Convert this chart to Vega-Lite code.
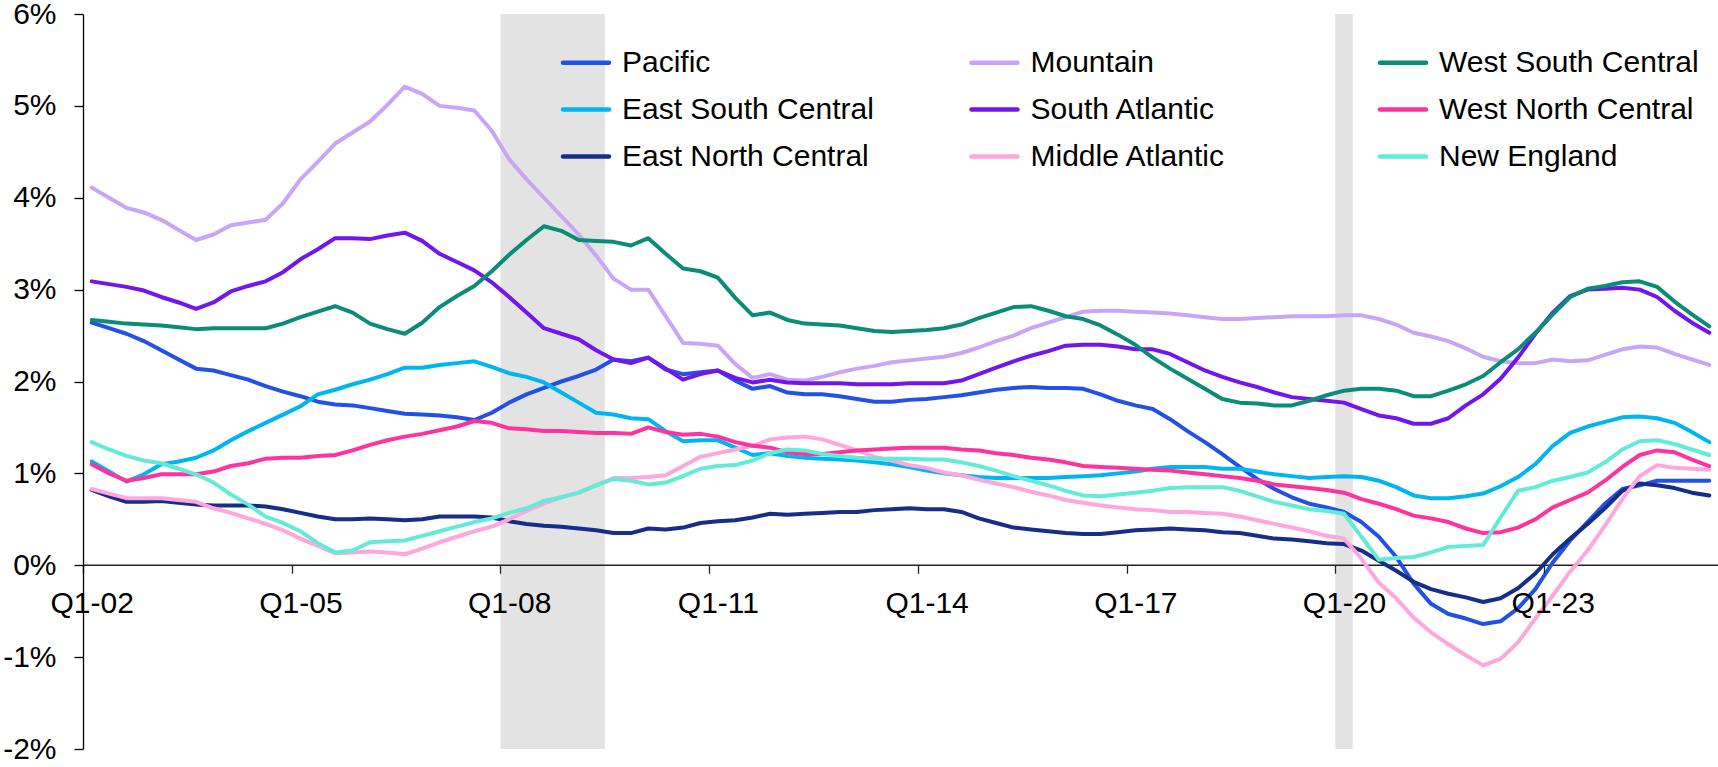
{
"$schema": "https://vega.github.io/schema/vega-lite/v6.json",
"width": 1635, "height": 735,
"autosize": {"type": "none"},
"padding": {"left": 83, "top": 14, "right": 0, "bottom": 18},
"background": "white",
"config": {"view": {"stroke": null}, "font": "Liberation Sans"},
"datasets": {
"shade": [{"s": 23.5, "e": 29.5}, {"s": 71.5, "e": 72.5}],
"series": [
{"r":"Pacific","t":0,"v":2.64},{"r":"Pacific","t":1,"v":2.58},{"r":"Pacific","t":2,"v":2.52},{"r":"Pacific","t":3,"v":2.44},{"r":"Pacific","t":4,"v":2.34},{"r":"Pacific","t":5,"v":2.24},{"r":"Pacific","t":6,"v":2.14},{"r":"Pacific","t":7,"v":2.12},{"r":"Pacific","t":8,"v":2.07},{"r":"Pacific","t":9,"v":2.02},
{"r":"Pacific","t":10,"v":1.95},{"r":"Pacific","t":11,"v":1.89},{"r":"Pacific","t":12,"v":1.84},{"r":"Pacific","t":13,"v":1.78},{"r":"Pacific","t":14,"v":1.75},{"r":"Pacific","t":15,"v":1.74},{"r":"Pacific","t":16,"v":1.71},{"r":"Pacific","t":17,"v":1.68},{"r":"Pacific","t":18,"v":1.65},{"r":"Pacific","t":19,"v":1.64},
{"r":"Pacific","t":20,"v":1.63},{"r":"Pacific","t":21,"v":1.61},{"r":"Pacific","t":22,"v":1.58},{"r":"Pacific","t":23,"v":1.66},{"r":"Pacific","t":24,"v":1.77},{"r":"Pacific","t":25,"v":1.86},{"r":"Pacific","t":26,"v":1.93},{"r":"Pacific","t":27,"v":2.00},{"r":"Pacific","t":28,"v":2.06},{"r":"Pacific","t":29,"v":2.13},
{"r":"Pacific","t":30,"v":2.24},{"r":"Pacific","t":31,"v":2.22},{"r":"Pacific","t":32,"v":2.26},{"r":"Pacific","t":33,"v":2.13},{"r":"Pacific","t":34,"v":2.08},{"r":"Pacific","t":35,"v":2.10},{"r":"Pacific","t":36,"v":2.12},{"r":"Pacific","t":37,"v":2.01},{"r":"Pacific","t":38,"v":1.92},{"r":"Pacific","t":39,"v":1.95},
{"r":"Pacific","t":40,"v":1.88},{"r":"Pacific","t":41,"v":1.86},{"r":"Pacific","t":42,"v":1.86},{"r":"Pacific","t":43,"v":1.84},{"r":"Pacific","t":44,"v":1.81},{"r":"Pacific","t":45,"v":1.78},{"r":"Pacific","t":46,"v":1.78},{"r":"Pacific","t":47,"v":1.80},{"r":"Pacific","t":48,"v":1.81},{"r":"Pacific","t":49,"v":1.83},
{"r":"Pacific","t":50,"v":1.85},{"r":"Pacific","t":51,"v":1.88},{"r":"Pacific","t":52,"v":1.91},{"r":"Pacific","t":53,"v":1.93},{"r":"Pacific","t":54,"v":1.94},{"r":"Pacific","t":55,"v":1.93},{"r":"Pacific","t":56,"v":1.93},{"r":"Pacific","t":57,"v":1.92},{"r":"Pacific","t":58,"v":1.86},{"r":"Pacific","t":59,"v":1.79},
{"r":"Pacific","t":60,"v":1.74},{"r":"Pacific","t":61,"v":1.70},{"r":"Pacific","t":62,"v":1.59},{"r":"Pacific","t":63,"v":1.46},{"r":"Pacific","t":64,"v":1.34},{"r":"Pacific","t":65,"v":1.21},{"r":"Pacific","t":66,"v":1.07},{"r":"Pacific","t":67,"v":0.94},{"r":"Pacific","t":68,"v":0.83},{"r":"Pacific","t":69,"v":0.74},
{"r":"Pacific","t":70,"v":0.67},{"r":"Pacific","t":71,"v":0.63},{"r":"Pacific","t":72,"v":0.58},{"r":"Pacific","t":73,"v":0.47},{"r":"Pacific","t":74,"v":0.31},{"r":"Pacific","t":75,"v":0.09},{"r":"Pacific","t":76,"v":-0.20},{"r":"Pacific","t":77,"v":-0.42},{"r":"Pacific","t":78,"v":-0.53},{"r":"Pacific","t":79,"v":-0.58},
{"r":"Pacific","t":80,"v":-0.64},{"r":"Pacific","t":81,"v":-0.61},{"r":"Pacific","t":82,"v":-0.47},{"r":"Pacific","t":83,"v":-0.26},{"r":"Pacific","t":84,"v":0.03},{"r":"Pacific","t":85,"v":0.27},{"r":"Pacific","t":86,"v":0.47},{"r":"Pacific","t":87,"v":0.67},{"r":"Pacific","t":88,"v":0.83},{"r":"Pacific","t":89,"v":0.87},
{"r":"Pacific","t":90,"v":0.92},{"r":"Pacific","t":91,"v":0.92},{"r":"Pacific","t":92,"v":0.92},{"r":"Pacific","t":93,"v":0.92},

{"r":"East South Central","t":0,"v":1.13},{"r":"East South Central","t":1,"v":1.02},{"r":"East South Central","t":2,"v":0.91},{"r":"East South Central","t":3,"v":0.99},{"r":"East South Central","t":4,"v":1.10},{"r":"East South Central","t":5,"v":1.13},{"r":"East South Central","t":6,"v":1.17},{"r":"East South Central","t":7,"v":1.25},{"r":"East South Central","t":8,"v":1.36},{"r":"East South Central","t":9,"v":1.46},
{"r":"East South Central","t":10,"v":1.55},{"r":"East South Central","t":11,"v":1.64},{"r":"East South Central","t":12,"v":1.73},{"r":"East South Central","t":13,"v":1.86},{"r":"East South Central","t":14,"v":1.91},{"r":"East South Central","t":15,"v":1.97},{"r":"East South Central","t":16,"v":2.02},{"r":"East South Central","t":17,"v":2.08},{"r":"East South Central","t":18,"v":2.15},{"r":"East South Central","t":19,"v":2.15},
{"r":"East South Central","t":20,"v":2.18},{"r":"East South Central","t":21,"v":2.20},{"r":"East South Central","t":22,"v":2.22},{"r":"East South Central","t":23,"v":2.16},{"r":"East South Central","t":24,"v":2.09},{"r":"East South Central","t":25,"v":2.05},{"r":"East South Central","t":26,"v":1.99},{"r":"East South Central","t":27,"v":1.88},{"r":"East South Central","t":28,"v":1.77},{"r":"East South Central","t":29,"v":1.66},
{"r":"East South Central","t":30,"v":1.64},{"r":"East South Central","t":31,"v":1.60},{"r":"East South Central","t":32,"v":1.59},{"r":"East South Central","t":33,"v":1.46},{"r":"East South Central","t":34,"v":1.35},{"r":"East South Central","t":35,"v":1.36},{"r":"East South Central","t":36,"v":1.36},{"r":"East South Central","t":37,"v":1.28},{"r":"East South Central","t":38,"v":1.20},{"r":"East South Central","t":39,"v":1.22},
{"r":"East South Central","t":40,"v":1.19},{"r":"East South Central","t":41,"v":1.17},{"r":"East South Central","t":42,"v":1.16},{"r":"East South Central","t":43,"v":1.15},{"r":"East South Central","t":44,"v":1.14},{"r":"East South Central","t":45,"v":1.12},{"r":"East South Central","t":46,"v":1.10},{"r":"East South Central","t":47,"v":1.07},{"r":"East South Central","t":48,"v":1.03},{"r":"East South Central","t":49,"v":1.00},
{"r":"East South Central","t":50,"v":0.98},{"r":"East South Central","t":51,"v":0.96},{"r":"East South Central","t":52,"v":0.95},{"r":"East South Central","t":53,"v":0.95},{"r":"East South Central","t":54,"v":0.95},{"r":"East South Central","t":55,"v":0.95},{"r":"East South Central","t":56,"v":0.96},{"r":"East South Central","t":57,"v":0.97},{"r":"East South Central","t":58,"v":0.98},{"r":"East South Central","t":59,"v":1.00},
{"r":"East South Central","t":60,"v":1.02},{"r":"East South Central","t":61,"v":1.05},{"r":"East South Central","t":62,"v":1.07},{"r":"East South Central","t":63,"v":1.07},{"r":"East South Central","t":64,"v":1.07},{"r":"East South Central","t":65,"v":1.05},{"r":"East South Central","t":66,"v":1.05},{"r":"East South Central","t":67,"v":1.02},{"r":"East South Central","t":68,"v":0.99},{"r":"East South Central","t":69,"v":0.97},
{"r":"East South Central","t":70,"v":0.95},{"r":"East South Central","t":71,"v":0.96},{"r":"East South Central","t":72,"v":0.97},{"r":"East South Central","t":73,"v":0.96},{"r":"East South Central","t":74,"v":0.92},{"r":"East South Central","t":75,"v":0.85},{"r":"East South Central","t":76,"v":0.76},{"r":"East South Central","t":77,"v":0.73},{"r":"East South Central","t":78,"v":0.73},{"r":"East South Central","t":79,"v":0.75},
{"r":"East South Central","t":80,"v":0.78},{"r":"East South Central","t":81,"v":0.86},{"r":"East South Central","t":82,"v":0.96},{"r":"East South Central","t":83,"v":1.10},{"r":"East South Central","t":84,"v":1.30},{"r":"East South Central","t":85,"v":1.44},{"r":"East South Central","t":86,"v":1.51},{"r":"East South Central","t":87,"v":1.56},{"r":"East South Central","t":88,"v":1.61},{"r":"East South Central","t":89,"v":1.62},
{"r":"East South Central","t":90,"v":1.60},{"r":"East South Central","t":91,"v":1.55},{"r":"East South Central","t":92,"v":1.45},{"r":"East South Central","t":93,"v":1.34},

{"r":"East North Central","t":0,"v":0.82},{"r":"East North Central","t":1,"v":0.75},{"r":"East North Central","t":2,"v":0.69},{"r":"East North Central","t":3,"v":0.69},{"r":"East North Central","t":4,"v":0.70},{"r":"East North Central","t":5,"v":0.68},{"r":"East North Central","t":6,"v":0.66},{"r":"East North Central","t":7,"v":0.65},{"r":"East North Central","t":8,"v":0.65},{"r":"East North Central","t":9,"v":0.65},
{"r":"East North Central","t":10,"v":0.64},{"r":"East North Central","t":11,"v":0.61},{"r":"East North Central","t":12,"v":0.57},{"r":"East North Central","t":13,"v":0.53},{"r":"East North Central","t":14,"v":0.50},{"r":"East North Central","t":15,"v":0.50},{"r":"East North Central","t":16,"v":0.51},{"r":"East North Central","t":17,"v":0.50},{"r":"East North Central","t":18,"v":0.49},{"r":"East North Central","t":19,"v":0.50},
{"r":"East North Central","t":20,"v":0.53},{"r":"East North Central","t":21,"v":0.53},{"r":"East North Central","t":22,"v":0.53},{"r":"East North Central","t":23,"v":0.52},{"r":"East North Central","t":24,"v":0.48},{"r":"East North Central","t":25,"v":0.45},{"r":"East North Central","t":26,"v":0.43},{"r":"East North Central","t":27,"v":0.42},{"r":"East North Central","t":28,"v":0.40},{"r":"East North Central","t":29,"v":0.38},
{"r":"East North Central","t":30,"v":0.35},{"r":"East North Central","t":31,"v":0.35},{"r":"East North Central","t":32,"v":0.40},{"r":"East North Central","t":33,"v":0.39},{"r":"East North Central","t":34,"v":0.41},{"r":"East North Central","t":35,"v":0.46},{"r":"East North Central","t":36,"v":0.48},{"r":"East North Central","t":37,"v":0.49},{"r":"East North Central","t":38,"v":0.52},{"r":"East North Central","t":39,"v":0.56},
{"r":"East North Central","t":40,"v":0.55},{"r":"East North Central","t":41,"v":0.56},{"r":"East North Central","t":42,"v":0.57},{"r":"East North Central","t":43,"v":0.58},{"r":"East North Central","t":44,"v":0.58},{"r":"East North Central","t":45,"v":0.60},{"r":"East North Central","t":46,"v":0.61},{"r":"East North Central","t":47,"v":0.62},{"r":"East North Central","t":48,"v":0.61},{"r":"East North Central","t":49,"v":0.61},
{"r":"East North Central","t":50,"v":0.58},{"r":"East North Central","t":51,"v":0.51},{"r":"East North Central","t":52,"v":0.46},{"r":"East North Central","t":53,"v":0.41},{"r":"East North Central","t":54,"v":0.39},{"r":"East North Central","t":55,"v":0.37},{"r":"East North Central","t":56,"v":0.35},{"r":"East North Central","t":57,"v":0.34},{"r":"East North Central","t":58,"v":0.34},{"r":"East North Central","t":59,"v":0.36},
{"r":"East North Central","t":60,"v":0.38},{"r":"East North Central","t":61,"v":0.39},{"r":"East North Central","t":62,"v":0.40},{"r":"East North Central","t":63,"v":0.39},{"r":"East North Central","t":64,"v":0.38},{"r":"East North Central","t":65,"v":0.36},{"r":"East North Central","t":66,"v":0.35},{"r":"East North Central","t":67,"v":0.32},{"r":"East North Central","t":68,"v":0.29},{"r":"East North Central","t":69,"v":0.28},
{"r":"East North Central","t":70,"v":0.26},{"r":"East North Central","t":71,"v":0.24},{"r":"East North Central","t":72,"v":0.23},{"r":"East North Central","t":73,"v":0.16},{"r":"East North Central","t":74,"v":0.05},{"r":"East North Central","t":75,"v":-0.06},{"r":"East North Central","t":76,"v":-0.18},{"r":"East North Central","t":77,"v":-0.26},{"r":"East North Central","t":78,"v":-0.31},{"r":"East North Central","t":79,"v":-0.35},
{"r":"East North Central","t":80,"v":-0.40},{"r":"East North Central","t":81,"v":-0.36},{"r":"East North Central","t":82,"v":-0.25},{"r":"East North Central","t":83,"v":-0.09},{"r":"East North Central","t":84,"v":0.12},{"r":"East North Central","t":85,"v":0.29},{"r":"East North Central","t":86,"v":0.45},{"r":"East North Central","t":87,"v":0.62},{"r":"East North Central","t":88,"v":0.81},{"r":"East North Central","t":89,"v":0.89},
{"r":"East North Central","t":90,"v":0.87},{"r":"East North Central","t":91,"v":0.84},{"r":"East North Central","t":92,"v":0.79},{"r":"East North Central","t":93,"v":0.76},

{"r":"Mountain","t":0,"v":4.11},{"r":"Mountain","t":1,"v":4.00},{"r":"Mountain","t":2,"v":3.89},{"r":"Mountain","t":3,"v":3.84},{"r":"Mountain","t":4,"v":3.76},{"r":"Mountain","t":5,"v":3.65},{"r":"Mountain","t":6,"v":3.54},{"r":"Mountain","t":7,"v":3.60},{"r":"Mountain","t":8,"v":3.70},{"r":"Mountain","t":9,"v":3.73},
{"r":"Mountain","t":10,"v":3.76},{"r":"Mountain","t":11,"v":3.94},{"r":"Mountain","t":12,"v":4.20},{"r":"Mountain","t":13,"v":4.39},{"r":"Mountain","t":14,"v":4.59},{"r":"Mountain","t":15,"v":4.71},{"r":"Mountain","t":16,"v":4.83},{"r":"Mountain","t":17,"v":5.01},{"r":"Mountain","t":18,"v":5.21},{"r":"Mountain","t":19,"v":5.13},
{"r":"Mountain","t":20,"v":5.00},{"r":"Mountain","t":21,"v":4.98},{"r":"Mountain","t":22,"v":4.95},{"r":"Mountain","t":23,"v":4.73},{"r":"Mountain","t":24,"v":4.42},{"r":"Mountain","t":25,"v":4.20},{"r":"Mountain","t":26,"v":4.00},{"r":"Mountain","t":27,"v":3.80},{"r":"Mountain","t":28,"v":3.60},{"r":"Mountain","t":29,"v":3.37},
{"r":"Mountain","t":30,"v":3.12},{"r":"Mountain","t":31,"v":3.00},{"r":"Mountain","t":32,"v":3.00},{"r":"Mountain","t":33,"v":2.71},{"r":"Mountain","t":34,"v":2.42},{"r":"Mountain","t":35,"v":2.41},{"r":"Mountain","t":36,"v":2.39},{"r":"Mountain","t":37,"v":2.19},{"r":"Mountain","t":38,"v":2.04},{"r":"Mountain","t":39,"v":2.08},
{"r":"Mountain","t":40,"v":2.02},{"r":"Mountain","t":41,"v":2.01},{"r":"Mountain","t":42,"v":2.05},{"r":"Mountain","t":43,"v":2.10},{"r":"Mountain","t":44,"v":2.14},{"r":"Mountain","t":45,"v":2.17},{"r":"Mountain","t":46,"v":2.21},{"r":"Mountain","t":47,"v":2.23},{"r":"Mountain","t":48,"v":2.25},{"r":"Mountain","t":49,"v":2.27},
{"r":"Mountain","t":50,"v":2.31},{"r":"Mountain","t":51,"v":2.37},{"r":"Mountain","t":52,"v":2.44},{"r":"Mountain","t":53,"v":2.50},{"r":"Mountain","t":54,"v":2.58},{"r":"Mountain","t":55,"v":2.64},{"r":"Mountain","t":56,"v":2.70},{"r":"Mountain","t":57,"v":2.76},{"r":"Mountain","t":58,"v":2.77},{"r":"Mountain","t":59,"v":2.77},
{"r":"Mountain","t":60,"v":2.76},{"r":"Mountain","t":61,"v":2.75},{"r":"Mountain","t":62,"v":2.74},{"r":"Mountain","t":63,"v":2.72},{"r":"Mountain","t":64,"v":2.70},{"r":"Mountain","t":65,"v":2.68},{"r":"Mountain","t":66,"v":2.68},{"r":"Mountain","t":67,"v":2.69},{"r":"Mountain","t":68,"v":2.70},{"r":"Mountain","t":69,"v":2.71},
{"r":"Mountain","t":70,"v":2.71},{"r":"Mountain","t":71,"v":2.71},{"r":"Mountain","t":72,"v":2.72},{"r":"Mountain","t":73,"v":2.72},{"r":"Mountain","t":74,"v":2.68},{"r":"Mountain","t":75,"v":2.62},{"r":"Mountain","t":76,"v":2.53},{"r":"Mountain","t":77,"v":2.49},{"r":"Mountain","t":78,"v":2.44},{"r":"Mountain","t":79,"v":2.36},
{"r":"Mountain","t":80,"v":2.27},{"r":"Mountain","t":81,"v":2.22},{"r":"Mountain","t":82,"v":2.20},{"r":"Mountain","t":83,"v":2.20},{"r":"Mountain","t":84,"v":2.24},{"r":"Mountain","t":85,"v":2.22},{"r":"Mountain","t":86,"v":2.23},{"r":"Mountain","t":87,"v":2.29},{"r":"Mountain","t":88,"v":2.35},{"r":"Mountain","t":89,"v":2.38},
{"r":"Mountain","t":90,"v":2.37},{"r":"Mountain","t":91,"v":2.30},{"r":"Mountain","t":92,"v":2.24},{"r":"Mountain","t":93,"v":2.18},

{"r":"South Atlantic","t":0,"v":3.09},{"r":"South Atlantic","t":1,"v":3.06},{"r":"South Atlantic","t":2,"v":3.03},{"r":"South Atlantic","t":3,"v":2.99},{"r":"South Atlantic","t":4,"v":2.92},{"r":"South Atlantic","t":5,"v":2.86},{"r":"South Atlantic","t":6,"v":2.79},{"r":"South Atlantic","t":7,"v":2.86},{"r":"South Atlantic","t":8,"v":2.98},{"r":"South Atlantic","t":9,"v":3.04},
{"r":"South Atlantic","t":10,"v":3.09},{"r":"South Atlantic","t":11,"v":3.19},{"r":"South Atlantic","t":12,"v":3.33},{"r":"South Atlantic","t":13,"v":3.44},{"r":"South Atlantic","t":14,"v":3.56},{"r":"South Atlantic","t":15,"v":3.56},{"r":"South Atlantic","t":16,"v":3.55},{"r":"South Atlantic","t":17,"v":3.59},{"r":"South Atlantic","t":18,"v":3.62},{"r":"South Atlantic","t":19,"v":3.53},
{"r":"South Atlantic","t":20,"v":3.39},{"r":"South Atlantic","t":21,"v":3.30},{"r":"South Atlantic","t":22,"v":3.21},{"r":"South Atlantic","t":23,"v":3.08},{"r":"South Atlantic","t":24,"v":2.92},{"r":"South Atlantic","t":25,"v":2.75},{"r":"South Atlantic","t":26,"v":2.58},{"r":"South Atlantic","t":27,"v":2.52},{"r":"South Atlantic","t":28,"v":2.46},{"r":"South Atlantic","t":29,"v":2.34},
{"r":"South Atlantic","t":30,"v":2.24},{"r":"South Atlantic","t":31,"v":2.20},{"r":"South Atlantic","t":32,"v":2.26},{"r":"South Atlantic","t":33,"v":2.14},{"r":"South Atlantic","t":34,"v":2.02},{"r":"South Atlantic","t":35,"v":2.08},{"r":"South Atlantic","t":36,"v":2.12},{"r":"South Atlantic","t":37,"v":2.04},{"r":"South Atlantic","t":38,"v":1.99},{"r":"South Atlantic","t":39,"v":2.02},
{"r":"South Atlantic","t":40,"v":1.99},{"r":"South Atlantic","t":41,"v":1.98},{"r":"South Atlantic","t":42,"v":1.98},{"r":"South Atlantic","t":43,"v":1.98},{"r":"South Atlantic","t":44,"v":1.97},{"r":"South Atlantic","t":45,"v":1.97},{"r":"South Atlantic","t":46,"v":1.97},{"r":"South Atlantic","t":47,"v":1.98},{"r":"South Atlantic","t":48,"v":1.98},{"r":"South Atlantic","t":49,"v":1.98},
{"r":"South Atlantic","t":50,"v":2.01},{"r":"South Atlantic","t":51,"v":2.08},{"r":"South Atlantic","t":52,"v":2.15},{"r":"South Atlantic","t":53,"v":2.22},{"r":"South Atlantic","t":54,"v":2.28},{"r":"South Atlantic","t":55,"v":2.33},{"r":"South Atlantic","t":56,"v":2.39},{"r":"South Atlantic","t":57,"v":2.40},{"r":"South Atlantic","t":58,"v":2.40},{"r":"South Atlantic","t":59,"v":2.38},
{"r":"South Atlantic","t":60,"v":2.35},{"r":"South Atlantic","t":61,"v":2.35},{"r":"South Atlantic","t":62,"v":2.30},{"r":"South Atlantic","t":63,"v":2.21},{"r":"South Atlantic","t":64,"v":2.12},{"r":"South Atlantic","t":65,"v":2.05},{"r":"South Atlantic","t":66,"v":1.99},{"r":"South Atlantic","t":67,"v":1.94},{"r":"South Atlantic","t":68,"v":1.88},{"r":"South Atlantic","t":69,"v":1.83},
{"r":"South Atlantic","t":70,"v":1.81},{"r":"South Atlantic","t":71,"v":1.79},{"r":"South Atlantic","t":72,"v":1.77},{"r":"South Atlantic","t":73,"v":1.70},{"r":"South Atlantic","t":74,"v":1.63},{"r":"South Atlantic","t":75,"v":1.60},{"r":"South Atlantic","t":76,"v":1.54},{"r":"South Atlantic","t":77,"v":1.54},{"r":"South Atlantic","t":78,"v":1.60},{"r":"South Atlantic","t":79,"v":1.74},
{"r":"South Atlantic","t":80,"v":1.86},{"r":"South Atlantic","t":81,"v":2.03},{"r":"South Atlantic","t":82,"v":2.26},{"r":"South Atlantic","t":83,"v":2.52},{"r":"South Atlantic","t":84,"v":2.75},{"r":"South Atlantic","t":85,"v":2.93},{"r":"South Atlantic","t":86,"v":3.00},{"r":"South Atlantic","t":87,"v":3.01},{"r":"South Atlantic","t":88,"v":3.02},{"r":"South Atlantic","t":89,"v":3.00},
{"r":"South Atlantic","t":90,"v":2.92},{"r":"South Atlantic","t":91,"v":2.77},{"r":"South Atlantic","t":92,"v":2.64},{"r":"South Atlantic","t":93,"v":2.53},

{"r":"Middle Atlantic","t":0,"v":0.83},{"r":"Middle Atlantic","t":1,"v":0.78},{"r":"Middle Atlantic","t":2,"v":0.73},{"r":"Middle Atlantic","t":3,"v":0.73},{"r":"Middle Atlantic","t":4,"v":0.73},{"r":"Middle Atlantic","t":5,"v":0.71},{"r":"Middle Atlantic","t":6,"v":0.69},{"r":"Middle Atlantic","t":7,"v":0.62},{"r":"Middle Atlantic","t":8,"v":0.57},{"r":"Middle Atlantic","t":9,"v":0.51},
{"r":"Middle Atlantic","t":10,"v":0.45},{"r":"Middle Atlantic","t":11,"v":0.38},{"r":"Middle Atlantic","t":12,"v":0.29},{"r":"Middle Atlantic","t":13,"v":0.21},{"r":"Middle Atlantic","t":14,"v":0.13},{"r":"Middle Atlantic","t":15,"v":0.14},{"r":"Middle Atlantic","t":16,"v":0.15},{"r":"Middle Atlantic","t":17,"v":0.14},{"r":"Middle Atlantic","t":18,"v":0.12},{"r":"Middle Atlantic","t":19,"v":0.18},
{"r":"Middle Atlantic","t":20,"v":0.25},{"r":"Middle Atlantic","t":21,"v":0.31},{"r":"Middle Atlantic","t":22,"v":0.37},{"r":"Middle Atlantic","t":23,"v":0.42},{"r":"Middle Atlantic","t":24,"v":0.50},{"r":"Middle Atlantic","t":25,"v":0.59},{"r":"Middle Atlantic","t":26,"v":0.67},{"r":"Middle Atlantic","t":27,"v":0.74},{"r":"Middle Atlantic","t":28,"v":0.79},{"r":"Middle Atlantic","t":29,"v":0.87},
{"r":"Middle Atlantic","t":30,"v":0.95},{"r":"Middle Atlantic","t":31,"v":0.95},{"r":"Middle Atlantic","t":32,"v":0.96},{"r":"Middle Atlantic","t":33,"v":0.98},{"r":"Middle Atlantic","t":34,"v":1.08},{"r":"Middle Atlantic","t":35,"v":1.18},{"r":"Middle Atlantic","t":36,"v":1.22},{"r":"Middle Atlantic","t":37,"v":1.26},{"r":"Middle Atlantic","t":38,"v":1.30},{"r":"Middle Atlantic","t":39,"v":1.37},
{"r":"Middle Atlantic","t":40,"v":1.39},{"r":"Middle Atlantic","t":41,"v":1.40},{"r":"Middle Atlantic","t":42,"v":1.37},{"r":"Middle Atlantic","t":43,"v":1.31},{"r":"Middle Atlantic","t":44,"v":1.25},{"r":"Middle Atlantic","t":45,"v":1.18},{"r":"Middle Atlantic","t":46,"v":1.14},{"r":"Middle Atlantic","t":47,"v":1.09},{"r":"Middle Atlantic","t":48,"v":1.06},{"r":"Middle Atlantic","t":49,"v":1.01},
{"r":"Middle Atlantic","t":50,"v":0.98},{"r":"Middle Atlantic","t":51,"v":0.93},{"r":"Middle Atlantic","t":52,"v":0.89},{"r":"Middle Atlantic","t":53,"v":0.85},{"r":"Middle Atlantic","t":54,"v":0.80},{"r":"Middle Atlantic","t":55,"v":0.76},{"r":"Middle Atlantic","t":56,"v":0.71},{"r":"Middle Atlantic","t":57,"v":0.68},{"r":"Middle Atlantic","t":58,"v":0.65},{"r":"Middle Atlantic","t":59,"v":0.63},
{"r":"Middle Atlantic","t":60,"v":0.61},{"r":"Middle Atlantic","t":61,"v":0.60},{"r":"Middle Atlantic","t":62,"v":0.58},{"r":"Middle Atlantic","t":63,"v":0.58},{"r":"Middle Atlantic","t":64,"v":0.57},{"r":"Middle Atlantic","t":65,"v":0.56},{"r":"Middle Atlantic","t":66,"v":0.53},{"r":"Middle Atlantic","t":67,"v":0.49},{"r":"Middle Atlantic","t":68,"v":0.45},{"r":"Middle Atlantic","t":69,"v":0.41},
{"r":"Middle Atlantic","t":70,"v":0.37},{"r":"Middle Atlantic","t":71,"v":0.32},{"r":"Middle Atlantic","t":72,"v":0.29},{"r":"Middle Atlantic","t":73,"v":0.07},{"r":"Middle Atlantic","t":74,"v":-0.19},{"r":"Middle Atlantic","t":75,"v":-0.36},{"r":"Middle Atlantic","t":76,"v":-0.57},{"r":"Middle Atlantic","t":77,"v":-0.73},{"r":"Middle Atlantic","t":78,"v":-0.86},{"r":"Middle Atlantic","t":79,"v":-0.98},
{"r":"Middle Atlantic","t":80,"v":-1.09},{"r":"Middle Atlantic","t":81,"v":-1.02},{"r":"Middle Atlantic","t":82,"v":-0.84},{"r":"Middle Atlantic","t":83,"v":-0.58},{"r":"Middle Atlantic","t":84,"v":-0.33},{"r":"Middle Atlantic","t":85,"v":-0.07},{"r":"Middle Atlantic","t":86,"v":0.16},{"r":"Middle Atlantic","t":87,"v":0.43},{"r":"Middle Atlantic","t":88,"v":0.72},{"r":"Middle Atlantic","t":89,"v":0.97},
{"r":"Middle Atlantic","t":90,"v":1.09},{"r":"Middle Atlantic","t":91,"v":1.06},{"r":"Middle Atlantic","t":92,"v":1.05},{"r":"Middle Atlantic","t":93,"v":1.04},

{"r":"West South Central","t":0,"v":2.67},{"r":"West South Central","t":1,"v":2.65},{"r":"West South Central","t":2,"v":2.63},{"r":"West South Central","t":3,"v":2.62},{"r":"West South Central","t":4,"v":2.61},{"r":"West South Central","t":5,"v":2.59},{"r":"West South Central","t":6,"v":2.57},{"r":"West South Central","t":7,"v":2.58},{"r":"West South Central","t":8,"v":2.58},{"r":"West South Central","t":9,"v":2.58},
{"r":"West South Central","t":10,"v":2.58},{"r":"West South Central","t":11,"v":2.63},{"r":"West South Central","t":12,"v":2.70},{"r":"West South Central","t":13,"v":2.76},{"r":"West South Central","t":14,"v":2.82},{"r":"West South Central","t":15,"v":2.75},{"r":"West South Central","t":16,"v":2.63},{"r":"West South Central","t":17,"v":2.57},{"r":"West South Central","t":18,"v":2.52},{"r":"West South Central","t":19,"v":2.64},
{"r":"West South Central","t":20,"v":2.81},{"r":"West South Central","t":21,"v":2.93},{"r":"West South Central","t":22,"v":3.04},{"r":"West South Central","t":23,"v":3.20},{"r":"West South Central","t":24,"v":3.38},{"r":"West South Central","t":25,"v":3.54},{"r":"West South Central","t":26,"v":3.69},{"r":"West South Central","t":27,"v":3.64},{"r":"West South Central","t":28,"v":3.54},{"r":"West South Central","t":29,"v":3.53},
{"r":"West South Central","t":30,"v":3.52},{"r":"West South Central","t":31,"v":3.48},{"r":"West South Central","t":32,"v":3.56},{"r":"West South Central","t":33,"v":3.39},{"r":"West South Central","t":34,"v":3.23},{"r":"West South Central","t":35,"v":3.20},{"r":"West South Central","t":36,"v":3.13},{"r":"West South Central","t":37,"v":2.91},{"r":"West South Central","t":38,"v":2.72},{"r":"West South Central","t":39,"v":2.75},
{"r":"West South Central","t":40,"v":2.67},{"r":"West South Central","t":41,"v":2.63},{"r":"West South Central","t":42,"v":2.62},{"r":"West South Central","t":43,"v":2.61},{"r":"West South Central","t":44,"v":2.58},{"r":"West South Central","t":45,"v":2.55},{"r":"West South Central","t":46,"v":2.54},{"r":"West South Central","t":47,"v":2.55},{"r":"West South Central","t":48,"v":2.56},{"r":"West South Central","t":49,"v":2.58},
{"r":"West South Central","t":50,"v":2.62},{"r":"West South Central","t":51,"v":2.69},{"r":"West South Central","t":52,"v":2.75},{"r":"West South Central","t":53,"v":2.81},{"r":"West South Central","t":54,"v":2.82},{"r":"West South Central","t":55,"v":2.77},{"r":"West South Central","t":56,"v":2.71},{"r":"West South Central","t":57,"v":2.68},{"r":"West South Central","t":58,"v":2.61},{"r":"West South Central","t":59,"v":2.51},
{"r":"West South Central","t":60,"v":2.40},{"r":"West South Central","t":61,"v":2.26},{"r":"West South Central","t":62,"v":2.14},{"r":"West South Central","t":63,"v":2.03},{"r":"West South Central","t":64,"v":1.92},{"r":"West South Central","t":65,"v":1.81},{"r":"West South Central","t":66,"v":1.77},{"r":"West South Central","t":67,"v":1.76},{"r":"West South Central","t":68,"v":1.74},{"r":"West South Central","t":69,"v":1.74},
{"r":"West South Central","t":70,"v":1.79},{"r":"West South Central","t":71,"v":1.85},{"r":"West South Central","t":72,"v":1.90},{"r":"West South Central","t":73,"v":1.92},{"r":"West South Central","t":74,"v":1.92},{"r":"West South Central","t":75,"v":1.90},{"r":"West South Central","t":76,"v":1.84},{"r":"West South Central","t":77,"v":1.84},{"r":"West South Central","t":78,"v":1.90},{"r":"West South Central","t":79,"v":1.97},
{"r":"West South Central","t":80,"v":2.06},{"r":"West South Central","t":81,"v":2.21},{"r":"West South Central","t":82,"v":2.35},{"r":"West South Central","t":83,"v":2.53},{"r":"West South Central","t":84,"v":2.73},{"r":"West South Central","t":85,"v":2.92},{"r":"West South Central","t":86,"v":3.01},{"r":"West South Central","t":87,"v":3.04},{"r":"West South Central","t":88,"v":3.08},{"r":"West South Central","t":89,"v":3.09},
{"r":"West South Central","t":90,"v":3.03},{"r":"West South Central","t":91,"v":2.87},{"r":"West South Central","t":92,"v":2.73},{"r":"West South Central","t":93,"v":2.60},

{"r":"West North Central","t":0,"v":1.10},{"r":"West North Central","t":1,"v":1.00},{"r":"West North Central","t":2,"v":0.92},{"r":"West North Central","t":3,"v":0.95},{"r":"West North Central","t":4,"v":0.99},{"r":"West North Central","t":5,"v":0.99},{"r":"West North Central","t":6,"v":0.99},{"r":"West North Central","t":7,"v":1.02},{"r":"West North Central","t":8,"v":1.08},{"r":"West North Central","t":9,"v":1.11},
{"r":"West North Central","t":10,"v":1.16},{"r":"West North Central","t":11,"v":1.17},{"r":"West North Central","t":12,"v":1.17},{"r":"West North Central","t":13,"v":1.19},{"r":"West North Central","t":14,"v":1.20},{"r":"West North Central","t":15,"v":1.25},{"r":"West North Central","t":16,"v":1.31},{"r":"West North Central","t":17,"v":1.36},{"r":"West North Central","t":18,"v":1.40},{"r":"West North Central","t":19,"v":1.43},
{"r":"West North Central","t":20,"v":1.47},{"r":"West North Central","t":21,"v":1.51},{"r":"West North Central","t":22,"v":1.57},{"r":"West North Central","t":23,"v":1.55},{"r":"West North Central","t":24,"v":1.49},{"r":"West North Central","t":25,"v":1.48},{"r":"West North Central","t":26,"v":1.46},{"r":"West North Central","t":27,"v":1.46},{"r":"West North Central","t":28,"v":1.45},{"r":"West North Central","t":29,"v":1.44},
{"r":"West North Central","t":30,"v":1.44},{"r":"West North Central","t":31,"v":1.43},{"r":"West North Central","t":32,"v":1.50},{"r":"West North Central","t":33,"v":1.45},{"r":"West North Central","t":34,"v":1.42},{"r":"West North Central","t":35,"v":1.43},{"r":"West North Central","t":36,"v":1.40},{"r":"West North Central","t":37,"v":1.34},{"r":"West North Central","t":38,"v":1.30},{"r":"West North Central","t":39,"v":1.28},
{"r":"West North Central","t":40,"v":1.23},{"r":"West North Central","t":41,"v":1.21},{"r":"West North Central","t":42,"v":1.21},{"r":"West North Central","t":43,"v":1.23},{"r":"West North Central","t":44,"v":1.25},{"r":"West North Central","t":45,"v":1.26},{"r":"West North Central","t":46,"v":1.27},{"r":"West North Central","t":47,"v":1.28},{"r":"West North Central","t":48,"v":1.28},{"r":"West North Central","t":49,"v":1.28},
{"r":"West North Central","t":50,"v":1.26},{"r":"West North Central","t":51,"v":1.25},{"r":"West North Central","t":52,"v":1.22},{"r":"West North Central","t":53,"v":1.20},{"r":"West North Central","t":54,"v":1.17},{"r":"West North Central","t":55,"v":1.15},{"r":"West North Central","t":56,"v":1.12},{"r":"West North Central","t":57,"v":1.08},{"r":"West North Central","t":58,"v":1.07},{"r":"West North Central","t":59,"v":1.06},
{"r":"West North Central","t":60,"v":1.05},{"r":"West North Central","t":61,"v":1.04},{"r":"West North Central","t":62,"v":1.03},{"r":"West North Central","t":63,"v":1.01},{"r":"West North Central","t":64,"v":0.99},{"r":"West North Central","t":65,"v":0.97},{"r":"West North Central","t":66,"v":0.95},{"r":"West North Central","t":67,"v":0.92},{"r":"West North Central","t":68,"v":0.88},{"r":"West North Central","t":69,"v":0.86},
{"r":"West North Central","t":70,"v":0.84},{"r":"West North Central","t":71,"v":0.82},{"r":"West North Central","t":72,"v":0.79},{"r":"West North Central","t":73,"v":0.72},{"r":"West North Central","t":74,"v":0.67},{"r":"West North Central","t":75,"v":0.61},{"r":"West North Central","t":76,"v":0.54},{"r":"West North Central","t":77,"v":0.51},{"r":"West North Central","t":78,"v":0.47},{"r":"West North Central","t":79,"v":0.40},
{"r":"West North Central","t":80,"v":0.35},{"r":"West North Central","t":81,"v":0.36},{"r":"West North Central","t":82,"v":0.41},{"r":"West North Central","t":83,"v":0.50},{"r":"West North Central","t":84,"v":0.63},{"r":"West North Central","t":85,"v":0.71},{"r":"West North Central","t":86,"v":0.79},{"r":"West North Central","t":87,"v":0.92},{"r":"West North Central","t":88,"v":1.07},{"r":"West North Central","t":89,"v":1.20},
{"r":"West North Central","t":90,"v":1.25},{"r":"West North Central","t":91,"v":1.23},{"r":"West North Central","t":92,"v":1.15},{"r":"West North Central","t":93,"v":1.08},

{"r":"New England","t":0,"v":1.34},{"r":"New England","t":1,"v":1.26},{"r":"New England","t":2,"v":1.19},{"r":"New England","t":3,"v":1.14},{"r":"New England","t":4,"v":1.11},{"r":"New England","t":5,"v":1.05},{"r":"New England","t":6,"v":0.99},{"r":"New England","t":7,"v":0.90},{"r":"New England","t":8,"v":0.77},{"r":"New England","t":9,"v":0.66},
{"r":"New England","t":10,"v":0.53},{"r":"New England","t":11,"v":0.46},{"r":"New England","t":12,"v":0.37},{"r":"New England","t":13,"v":0.24},{"r":"New England","t":14,"v":0.14},{"r":"New England","t":15,"v":0.16},{"r":"New England","t":16,"v":0.25},{"r":"New England","t":17,"v":0.26},{"r":"New England","t":18,"v":0.27},{"r":"New England","t":19,"v":0.32},
{"r":"New England","t":20,"v":0.37},{"r":"New England","t":21,"v":0.42},{"r":"New England","t":22,"v":0.47},{"r":"New England","t":23,"v":0.51},{"r":"New England","t":24,"v":0.57},{"r":"New England","t":25,"v":0.62},{"r":"New England","t":26,"v":0.70},{"r":"New England","t":27,"v":0.74},{"r":"New England","t":28,"v":0.79},{"r":"New England","t":29,"v":0.87},
{"r":"New England","t":30,"v":0.94},{"r":"New England","t":31,"v":0.92},{"r":"New England","t":32,"v":0.88},{"r":"New England","t":33,"v":0.90},{"r":"New England","t":34,"v":0.97},{"r":"New England","t":35,"v":1.05},{"r":"New England","t":36,"v":1.08},{"r":"New England","t":37,"v":1.09},{"r":"New England","t":38,"v":1.14},{"r":"New England","t":39,"v":1.22},
{"r":"New England","t":40,"v":1.26},{"r":"New England","t":41,"v":1.25},{"r":"New England","t":42,"v":1.21},{"r":"New England","t":43,"v":1.19},{"r":"New England","t":44,"v":1.17},{"r":"New England","t":45,"v":1.16},{"r":"New England","t":46,"v":1.16},{"r":"New England","t":47,"v":1.16},{"r":"New England","t":48,"v":1.15},{"r":"New England","t":49,"v":1.15},
{"r":"New England","t":50,"v":1.12},{"r":"New England","t":51,"v":1.08},{"r":"New England","t":52,"v":1.03},{"r":"New England","t":53,"v":0.97},{"r":"New England","t":54,"v":0.92},{"r":"New England","t":55,"v":0.87},{"r":"New England","t":56,"v":0.81},{"r":"New England","t":57,"v":0.76},{"r":"New England","t":58,"v":0.75},{"r":"New England","t":59,"v":0.77},
{"r":"New England","t":60,"v":0.79},{"r":"New England","t":61,"v":0.81},{"r":"New England","t":62,"v":0.84},{"r":"New England","t":63,"v":0.85},{"r":"New England","t":64,"v":0.85},{"r":"New England","t":65,"v":0.85},{"r":"New England","t":66,"v":0.81},{"r":"New England","t":67,"v":0.75},{"r":"New England","t":68,"v":0.69},{"r":"New England","t":69,"v":0.65},
{"r":"New England","t":70,"v":0.61},{"r":"New England","t":71,"v":0.59},{"r":"New England","t":72,"v":0.56},{"r":"New England","t":73,"v":0.31},{"r":"New England","t":74,"v":0.06},{"r":"New England","t":75,"v":0.08},{"r":"New England","t":76,"v":0.09},{"r":"New England","t":77,"v":0.14},{"r":"New England","t":78,"v":0.20},{"r":"New England","t":79,"v":0.21},
{"r":"New England","t":80,"v":0.22},{"r":"New England","t":81,"v":0.52},{"r":"New England","t":82,"v":0.81},{"r":"New England","t":83,"v":0.85},{"r":"New England","t":84,"v":0.92},{"r":"New England","t":85,"v":0.96},{"r":"New England","t":86,"v":1.01},{"r":"New England","t":87,"v":1.12},{"r":"New England","t":88,"v":1.26},{"r":"New England","t":89,"v":1.35},
{"r":"New England","t":90,"v":1.36},{"r":"New England","t":91,"v":1.32},{"r":"New England","t":92,"v":1.26},{"r":"New England","t":93,"v":1.20}
]
},
"layer": [
{
"data": {"name": "shade"},
"mark": {"type": "rect", "color": "#E3E3E3"},
"encoding": {
"x": {"field": "s", "type": "quantitative", "title": null, "scale": {"domain": [-0.5, 93.5], "nice": false, "zero": false}},
"x2": {"field": "e"},
"y": {"datum": -2, "type": "quantitative", "title": null, "scale": {"domain": [-2, 6], "nice": false, "zero": false}},
"y2": {"datum": 6}
}
},
{
"data": {"values": [{}]},
"mark": {"type": "rule", "color": "#222222", "strokeWidth": 1.3},
"encoding": {"y": {"datum": 0, "type": "quantitative", "title": null}}
},
{
"data": {"name": "series"},
"mark": {"type": "line", "strokeWidth": 4, "strokeCap": "round", "strokeJoin": "round"},
"encoding": {
"x": {"field": "t", "type": "quantitative", "title": null,
"axis": {"values": [-0.5, 11.5, 23.5, 35.5, 47.5, 59.5, 71.5, 83.5],
"labelExpr": "'Q1-' + ((datum.value + 0.5) / 4 + 2 < 10 ? '0' : '') + ((datum.value + 0.5) / 4 + 2)",
"offset": -183.75, "domain": false, "grid": false, "tickSize": 8, "tickColor": "#222222", "tickWidth": 1.3, "zindex": 1,
"labelFontSize": 30, "labelFont": "Liberation Sans", "labelColor": "#000000", "labelPadding": 15.5, "labelOffset": 8.7,
"labelAlign": "center", "labelBaseline": "top", "labelFlush": false, "labelOverlap": false, "labelBound": false, "title": null}},
"y": {"field": "v", "type": "quantitative", "title": null,
"axis": {"values": [-2, -1, 0, 1, 2, 3, 4, 5, 6], "labelExpr": "datum.value + '%'", "grid": false, "zindex": 1,
"domainColor": "#000000", "domainWidth": 1.3, "tickColor": "#000000", "tickWidth": 1.3, "tickSize": 9,
"labelFontSize": 30, "labelFont": "Liberation Sans", "labelColor": "#000000", "labelPadding": 18, "title": null}},
"color": {"field": "r", "type": "nominal",
"scale": {"domain": ["Pacific", "East South Central", "East North Central", "Mountain", "South Atlantic", "Middle Atlantic", "West South Central", "West North Central", "New England"],
"range": ["#2351E6", "#00B6F2", "#162D8A", "#C9A6F5", "#7216EB", "#FFA6DC", "#0A8C78", "#FF339E", "#63EBD8"]},
"legend": {"orient": "none", "legendX": 477.5, "legendY": 23, "title": null, "columns": 3, "gridAlign": "all",
"columnPadding": 79.5, "rowPadding": 6, "symbolType": "stroke", "symbolSize": 2116, "symbolStrokeWidth": 4.5,
"labelFontSize": 30, "labelFont": "Liberation Sans", "labelColor": "#000000", "labelOffset": 10.5, "labelLimit": 600, "padding": 0,
"encode": {"symbols": {"update": {"strokeCap": {"value": "round"}}}}}}
}
}
]
}
